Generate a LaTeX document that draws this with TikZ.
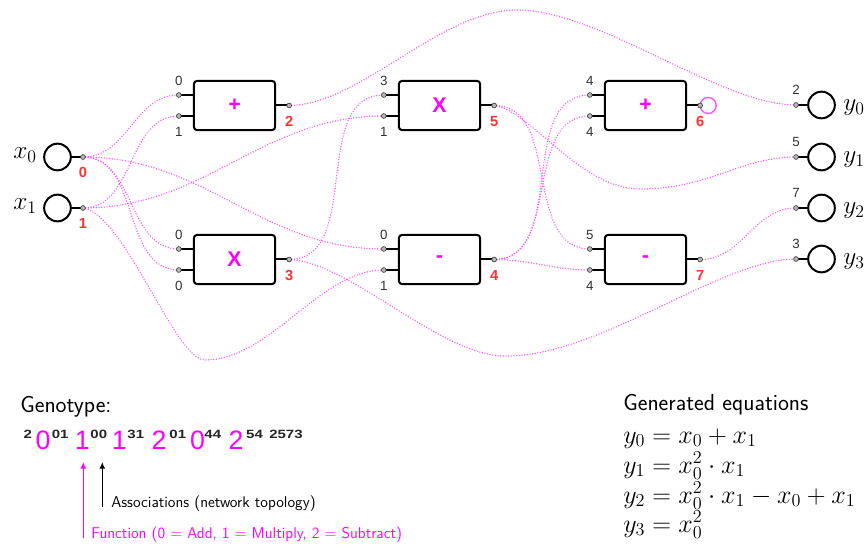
\RequirePackage{fix-cm}
\documentclass[tikz,border=0pt]{standalone}
\usepackage{fontspec}
\newfontfamily\arial{Liberation Sans}
\newfontfamily\assocfont[FakeStretch=1.25]{Liberation Sans}
\usepackage{tikz}
\usetikzlibrary{arrows.meta}
\definecolor{wirepink}{RGB}{255,80,255}
\definecolor{opmag}{RGB}{255,0,255}
\definecolor{idred}{RGB}{255,50,50}
\definecolor{numgray}{RGB}{50,50,50}

\begin{document}
\begin{tikzpicture}[x=0.75pt,y=-0.75pt, every node/.style={inner sep=0pt},
  gate/.style={draw, line width=1.5pt, rounded corners=2.5pt, minimum width=61pt, minimum height=37pt, font=\arial\bfseries\fontsize{16}{16}\selectfont, text=opmag},
  term/.style={draw, circle, line width=1.5pt, minimum size=20pt},
  port/.style={draw=black!75, fill=gray!55, circle, line width=0.5pt, minimum size=3.6pt},
  stub/.style={line width=1.5pt},
  wire/.style={wirepink, line width=1.1pt, dash pattern=on 0pt off 2pt, line cap=round},
  num/.style={font=\arial\fontsize{10}{10}\selectfont, text=numgray},
  idx/.style={font=\arial\bfseries\fontsize{11}{11}\selectfont, text=idred},
  mathlbl/.style={font=\fontsize{19}{19}\selectfont},
  gene/.style={font=\arial\fontsize{20}{20}\selectfont, text=opmag, anchor=base},
  assoc/.style={font=\assocfont\bfseries\fontsize{9}{9}\selectfont, text=black!85, anchor=base west},
  head/.style={font=\sffamily\fontsize{17.4}{20}\selectfont, anchor=base west},
  note/.style={font=\sffamily\fontsize{11.7}{13}\selectfont, anchor=base west},
  eq/.style={font=\fontsize{19.5}{22}\selectfont, anchor=base west},
  line/.style={-{Latex[length=5pt,width=4.5pt]}, line width=1.2pt}]
  \useasboundingbox (0,0) rectangle (867,545);

  % inputs and outputs
  \foreach \i/\y in {0/157, 1/208} {
    \node[term] (in\i) at (57.5,\y) {};
    \coordinate (x\i) at (83,\y);
    \draw[stub] (in\i) -- (x\i);
    \node[mathlbl, anchor=base east] at (37,\y+2) {$x_\i$};
    \node[idx] at (83,\y+15) {\i};
  }
  \foreach \i/\y/\s in {0/105/2, 1/157/5, 2/208/7, 3/259/3} {
    \node[term] (out\i) at (821.5,\y) {};
    \coordinate (y\i) at (796,\y);
    \draw[stub] (y\i) -- (out\i);
    \node[mathlbl, anchor=base west] at (843,\y+6) {$y_\i$};
    \node[num] at (796,\y-15) {\s};
  }

  % gates
  \foreach \n/\x/\y/\op/\ia/\ib in {2/234.5/105.5/+/0/1, 3/234.5/259.5/X/0/0, 5/439.5/105.5/X/3/1,
                                    4/439.5/259.5/-/0/1, 6/645.5/105.5/+/4/4, 7/645.5/259.5/-/5/4} {
    \node[gate] (g\n) at (\x,\y) {\op};
    \coordinate (a\n) at ([shift={(-14,-10.5)}]g\n.west);
    \coordinate (b\n) at ([shift={(-14,10.5)}]g\n.west);
    \coordinate (o\n) at ([shift={(13,0)}]g\n.east);
    \draw[stub] (a\n) -- (a\n -| g\n.west) (b\n) -- (b\n -| g\n.west) (o\n) -- (g\n.east);
    \node[num] at ([shift={(0,-14)}]a\n) {\ia};
    \node[num] at ([shift={(0,16)}]b\n) {\ib};
    \node[idx] at ([shift={(0,16)}]o\n) {\n};
  }

  % connections
  \draw[wire] (x0) to[out=0,in=180] (a2);
  \draw[wire] (x1) to[out=0,in=180] (b2);
  \draw[wire] (x0) to[out=0,in=180] (a3);
  \draw[wire] (x0) to[out=0,in=180] (b3);
  \draw[wire] (x0) to[out=0,in=180] (a4);
  \draw[wire] (x1) to[out=0,in=180] (b5);
  \draw[wire] (x1) .. controls (125,215) and (175,360) .. (205,360) .. controls (270,360) and (320,270) .. (b4);
  \draw[wire] (o3) to[out=0,in=180] (a5);
  \draw[wire] (o3) .. controls (350,262) and (440,356) .. (505,356) .. controls (600,357) and (720,259) .. (y3);
  \draw[wire] (o2) .. controls (360,105) and (440,10) .. (517,10) .. controls (600,10) and (720,105) .. (y0);
  \draw[wire] (o5) .. controls (530,110) and (580,189) .. (640,189) .. controls (710,189) and (740,157) .. (y1);
  \draw[wire] (o5) to[out=0,in=180] (a7);
  \draw[wire] (o4) to[out=0,in=180] (a6);
  \draw[wire] (o4) to[out=0,in=180] (b6);
  \draw[wire] (o4) to[out=0,in=180] (b7);
  \draw[wire] (o7) to[out=0,in=180] (y2);
  \draw[wirepink, line width=1pt] ([shift={(8,0)}]o6) circle[radius=6pt];

  \foreach \p in {x0,x1,y0,y1,y2,y3,a2,b2,o2,a3,b3,o3,a4,b4,o4,a5,b5,o5,a6,b6,o6,a7,b7,o7}
    \node[port] at (\p) {};

  % genotype
  \node[head] (genolbl) at (20,412) {Genotype:};
  \node[assoc, anchor=base] (lead) at (27.7,438) {2};
  \foreach \f/\s/\x/\sx [count=\i] in {0/01/43/51.5, 1/00/82.4/90.2, 1/31/119.4/127.2,
                                        2/01/159/169.2, 0/44/197.5/204.2, 2/54/236/245.9} {
    \node[gene] (f\i) at (\x,449) {\f};
    \node[assoc] (s\i) at (\sx,438) {\s};
  }
  \node[assoc, anchor=base] (tail) at (286,438) {2573};

  \coordinate (fnfoot) at (83.3,538);
  \coordinate (fntip) at (83.3,462);
  \coordinate (asfoot) at (102.3,507);
  \coordinate (astip) at (102.3,462);
  \draw[line, opmag] (fnfoot) -- (fntip);
  \draw[line] (asfoot) -- (astip);
  \node[note] (aslbl) at (111,507) {Associations (network topology)};
  \node[note, text=opmag] (fnlbl) at (91,538) {Function (0 = Add, 1 = Multiply, 2 = Subtract)};

  % equations
  \node[head] (eqlbl) at (623,410) {Generated equations};
  \node[eq] (eq0) at (623,443) {$y_0 = x_0 + x_1$};
  \node[eq] (eq1) at (623,473) {$y_1 = x_0^2 \cdot x_1$};
  \node[eq] (eq2) at (623,503) {$y_2 = x_0^2 \cdot x_1 - x_0 + x_1$};
  \node[eq] (eq3) at (623,532) {$y_3 = x_0^2$};
\end{tikzpicture}
\end{document}
